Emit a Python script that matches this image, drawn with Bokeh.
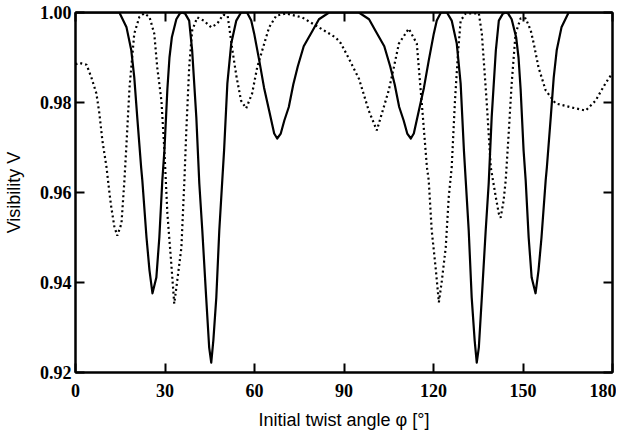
from bokeh.plotting import figure
from bokeh.models import LinearAxis, FixedTicker, NumeralTickFormatter, CustomJSTickFormatter, Range1d
from bokeh.embed import file_html
from bokeh.resources import INLINE

# Solid curve
solid_x = [0.0, 14.7, 17.1, 18.7, 19.7, 20.7, 22.0, 22.4, 23.8, 24.8, 25.8, 27.1, 28.1, 29.1, 29.8,
           30.8, 31.5, 32.3, 33.8, 35.0, 35.8, 36.8, 38.1, 39.1, 40.5, 41.5, 42.5, 43.8, 44.8, 45.5,
           46.2, 47.2, 48.2, 49.2, 49.8, 50.9, 52.2, 53.9, 55.5, 57.5, 58.9, 59.9, 61.6, 63.2, 64.9,
           66.6, 67.6, 68.8, 70.0, 71.5, 73.0, 74.5, 76.5, 79.5, 81.6, 85.0, 90.0, 95.0, 98.4, 100.5,
           103.5, 105.5, 107.0, 108.5, 110.0, 111.2, 112.4, 113.4, 115.1, 116.8, 118.4, 120.1, 121.1,
           122.5, 124.5, 126.1, 127.8, 129.1, 130.2, 130.8, 131.8, 132.8, 133.8, 134.5, 135.2, 136.2,
           137.5, 138.5, 139.5, 140.9, 141.9, 143.2, 144.2, 145.0, 146.2, 147.7, 148.5, 149.2, 150.2,
           150.9, 151.9, 152.9, 154.2, 155.2, 156.2, 157.6, 158.0, 159.3, 160.3, 161.3, 162.9, 165.3,
           180.0]
solid_v = [1.0, 1.0, 0.9967, 0.9916, 0.9856, 0.9767, 0.9656, 0.9627, 0.9500, 0.9427, 0.9376, 0.9411,
           0.9500, 0.9627, 0.9693, 0.9830, 0.9900, 0.9945, 0.9985, 0.9998, 1.0, 0.9997, 0.9982, 0.9916,
           0.9767, 0.9620, 0.9516, 0.9367, 0.9256, 0.9222, 0.9271, 0.9367, 0.9516, 0.9627, 0.9693,
           0.9842, 0.9931, 0.9982, 1.0, 1.0, 0.9982, 0.9953, 0.9893, 0.9833, 0.9782, 0.9731, 0.9720,
           0.9731, 0.9760, 0.9790, 0.9840, 0.9880, 0.9925, 0.9960, 0.9985, 1.0, 1.0, 1.0, 0.9985,
           0.9960, 0.9925, 0.9880, 0.9840, 0.9790, 0.9760, 0.9731, 0.9720, 0.9731, 0.9782, 0.9833,
           0.9893, 0.9953, 0.9982, 1.0, 1.0, 0.9982, 0.9931, 0.9842, 0.9693, 0.9627, 0.9516, 0.9367,
           0.9271, 0.9222, 0.9256, 0.9367, 0.9516, 0.9620, 0.9767, 0.9916, 0.9982, 0.9997, 1.0, 0.9998,
           0.9985, 0.9945, 0.9900, 0.9830, 0.9693, 0.9627, 0.9500, 0.9411, 0.9376, 0.9427, 0.9500,
           0.9627, 0.9656, 0.9767, 0.9856, 0.9916, 0.9967, 1.0, 1.0]

# Dotted curve
dot_x = [0.0, 1.3, 3.7, 5.3, 7.0, 8.0, 9.0, 10.4, 11.4, 12.0, 13.0, 14.0, 15.4, 16.4, 17.1, 18.1,
         19.7, 21.4, 23.0, 24.8, 26.4, 27.4, 28.8, 29.8, 30.8, 32.1, 33.1, 34.1, 35.5, 36.5, 37.1,
         38.1, 39.1, 40.8, 43.0, 45.5, 47.5, 49.5, 51.0, 52.6, 54.0, 55.5, 57.2, 59.2, 60.9, 62.6,
         64.9, 67.3, 70.6, 76.0, 81.6, 87.3, 89.0, 91.6, 95.0, 98.3, 101.0, 105.0, 106.7, 108.4,
         111.7, 114.4, 116.0, 117.8, 118.4, 119.4, 120.8, 121.8, 122.8, 124.1, 125.1, 126.1, 127.2,
         128.2, 129.1, 130.8, 135.2, 136.2, 137.8, 139.2, 140.9, 141.9, 142.5, 143.5, 144.2, 145.2,
         146.2, 147.5, 149.2, 150.9, 152.6, 153.6, 155.2, 157.6, 160.9, 166.3, 171.0, 174.3, 177.6,
         180.0]
dot_v = [0.9885, 0.9888, 0.9884, 0.9856, 0.9820, 0.9776, 0.9716, 0.9656, 0.9598, 0.9567, 0.9525,
         0.9504, 0.9531, 0.9627, 0.9709, 0.9833, 0.9953, 0.9990, 0.9998, 0.9990, 0.9953, 0.9878,
         0.9804, 0.9693, 0.9553, 0.9442, 0.9353, 0.9404, 0.9478, 0.9627, 0.9731, 0.9878, 0.9960,
         0.9989, 0.9982, 0.9967, 0.9975, 0.9995, 0.9993, 0.9916, 0.9856, 0.9804, 0.9787, 0.9820,
         0.9878, 0.9916, 0.9967, 0.9993, 0.9998, 0.9989, 0.9967, 0.9944, 0.9931, 0.9898, 0.9853,
         0.9782, 0.9738, 0.9827, 0.9878, 0.9931, 0.9964, 0.9931, 0.9804, 0.9656, 0.9627, 0.9516,
         0.9427, 0.9356, 0.9404, 0.9478, 0.9589, 0.9656, 0.9804, 0.9909, 0.9982, 0.9998, 0.9998,
         0.9953, 0.9804, 0.9656, 0.9589, 0.9553, 0.9544, 0.9582, 0.9627, 0.9731, 0.9842, 0.9953,
         0.9987, 0.9987, 0.9960, 0.9931, 0.9878, 0.9827, 0.9798, 0.9789, 0.9782, 0.9804, 0.9842,
         0.9866]

x_ticks = [0, 30, 60, 90, 120, 150, 180]
y_ticks = [0.92, 0.94, 0.96, 0.98, 1.00]

p = figure(width=616, height=432, output_backend="svg", toolbar_location=None,
           x_range=Range1d(0, 180), y_range=Range1d(0.92, 1.00),
           min_border_left=72, min_border_right=4, min_border_top=12, min_border_bottom=60)
p.xgrid.visible = False
p.ygrid.visible = False
p.outline_line_color = "black"
p.outline_line_width = 2

p.line(solid_x, solid_v, line_color="black", line_width=2.2, line_join="round")
p.line(dot_x, dot_v, line_color="black", line_width=2.2, line_dash="2 3")

tick_font = "Liberation Serif"
label_font = "Liberation Sans"

for ax in (p.xaxis[0], p.yaxis[0]):
    ax.axis_line_width = 2
    ax.major_tick_line_width = 2
    ax.major_tick_in = 9
    ax.major_tick_out = 0
    ax.minor_tick_line_color = None
    ax.major_label_text_font = tick_font
    ax.major_label_text_font_size = "18px"
    ax.major_label_text_font_style = "bold"
    ax.major_label_text_color = "black"
    ax.axis_label_text_font = label_font
    ax.axis_label_text_font_size = "18px"
    ax.axis_label_text_font_style = "normal"
    ax.axis_label_text_color = "black"

p.xaxis[0].ticker = FixedTicker(ticks=x_ticks)
p.yaxis[0].ticker = FixedTicker(ticks=y_ticks)
p.yaxis[0].formatter = NumeralTickFormatter(format="0.00")
p.xaxis[0].axis_label = "Initial twist angle φ [°]"
p.yaxis[0].axis_label = "Visibility V"
p.xaxis[0].major_label_standoff = 11
p.xaxis[0].axis_label_standoff = 10
p.yaxis[0].major_label_standoff = 4
p.yaxis[0].axis_label_standoff = 13

blank = CustomJSTickFormatter(code="return ''")
top = LinearAxis(ticker=FixedTicker(ticks=x_ticks), formatter=blank)
right = LinearAxis(ticker=FixedTicker(ticks=y_ticks), formatter=blank)
for ax in (top, right):
    ax.axis_line_width = 2
    ax.major_tick_line_width = 2
    ax.major_tick_in = 9
    ax.major_tick_out = 0
    ax.minor_tick_line_color = None
    ax.major_label_standoff = 0
    ax.major_label_text_font_size = "1px"
p.add_layout(top, "above")
p.add_layout(right, "right")

open("out.html", "w").write(file_html(p, INLINE))
